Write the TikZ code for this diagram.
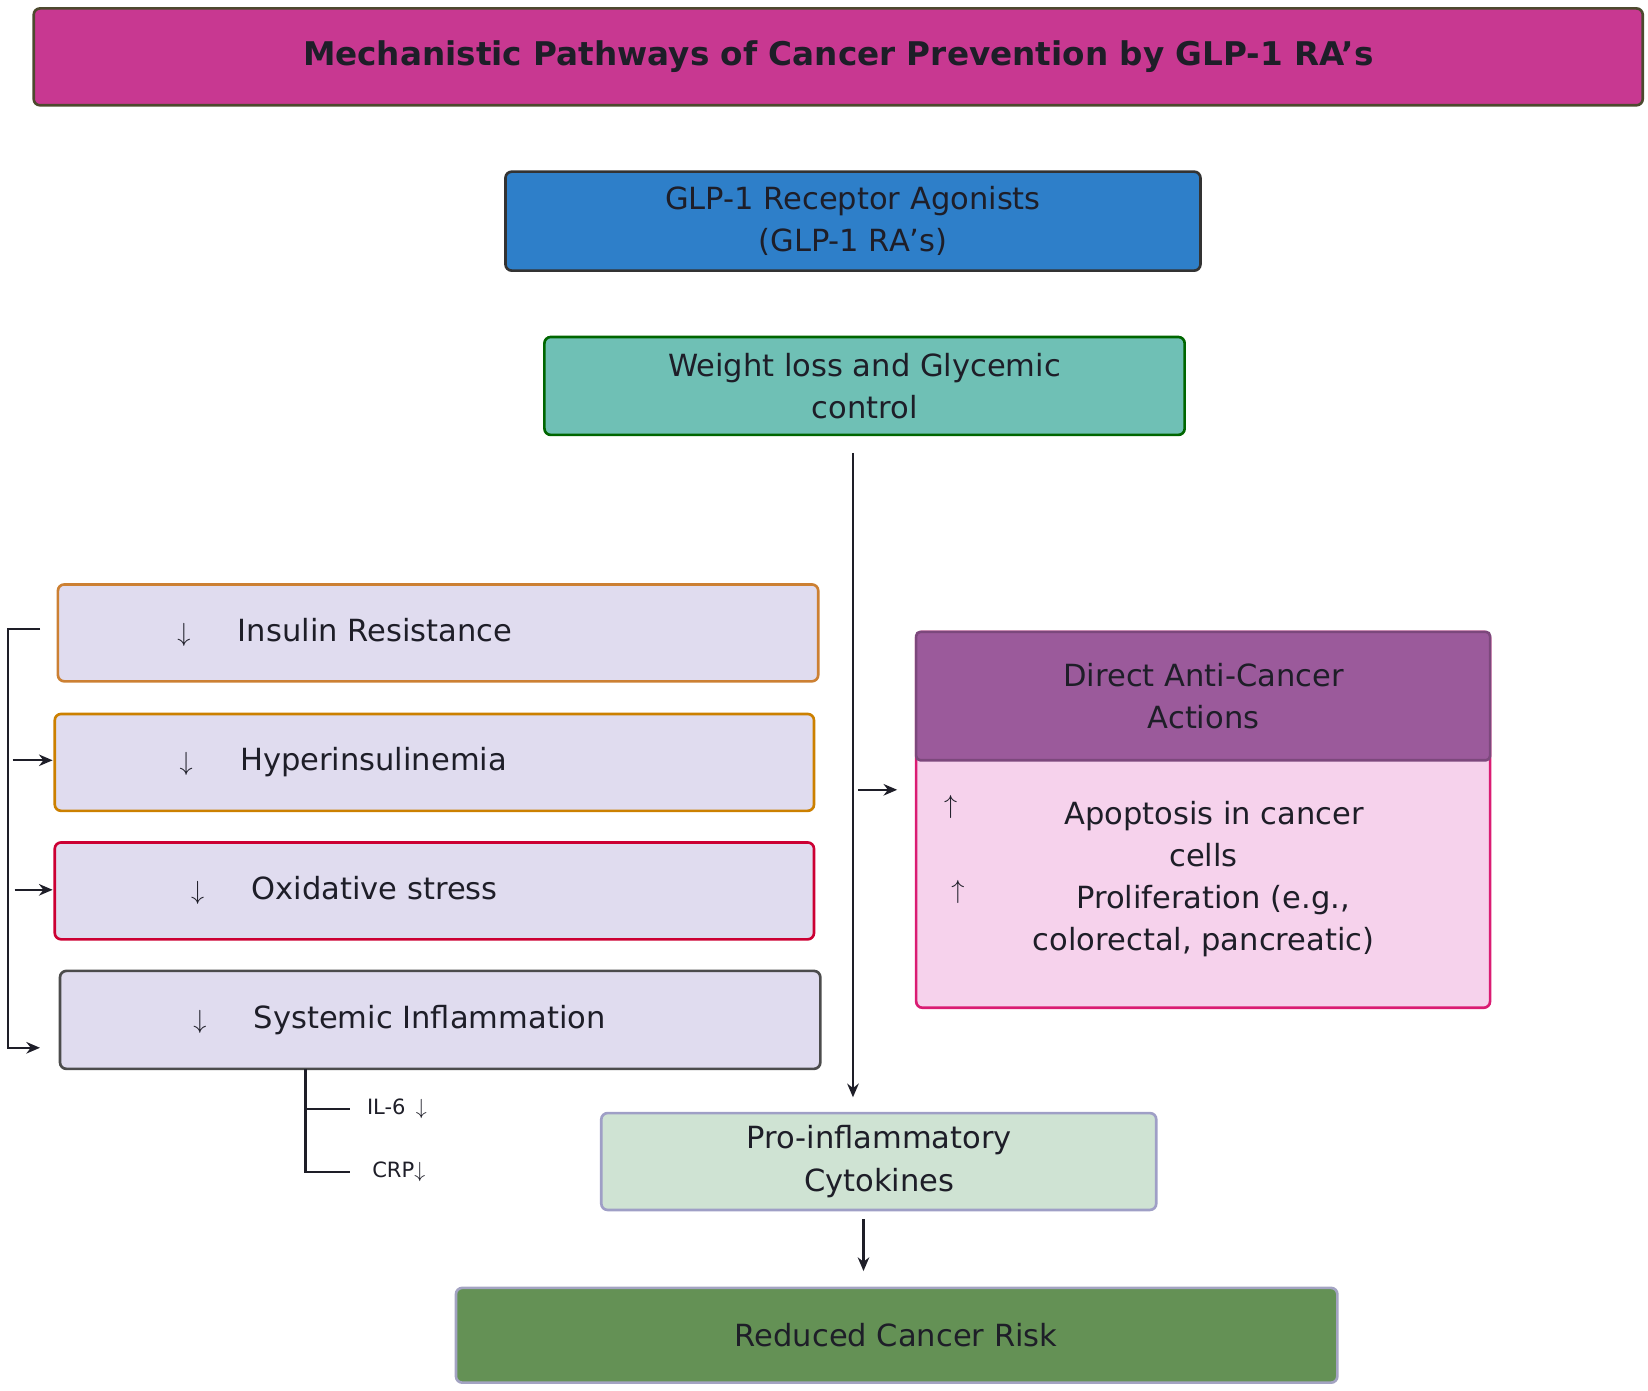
\documentclass[tikz,border=0pt]{standalone}
\usepackage{fontspec}
\setmainfont{DejaVu Sans}
\usetikzlibrary{arrows.meta}
\definecolor{titlefill}{RGB}{200,56,145}
\definecolor{glpfill}{RGB}{46,127,201}
\definecolor{wlfill}{RGB}{111,192,181}
\definecolor{lav}{RGB}{224,220,239}
\definecolor{dirhead}{RGB}{155,90,155}
\definecolor{dirbody}{RGB}{246,210,236}
\definecolor{profill}{RGB}{207,227,211}
\definecolor{redfill}{RGB}{100,145,85}
\definecolor{txt}{RGB}{30,30,40}
\begin{document}
\begin{tikzpicture}[x=1pt,y=-1pt,
  box/.style={draw, line width=2.5pt, rounded corners=6pt},
  lbl/.style={font=\fontsize{29}{40}\selectfont, text=txt, align=center},
  arr/.style={-{Stealth[length=13pt,width=11pt]}, line width=2pt, draw=txt}]
\useasboundingbox (0,0) rectangle (1565,1320);
% title
\draw[box, fill=titlefill, draw=black!60!olive] (32,8) rectangle (1560,100);
\node[lbl, font=\fontsize{31}{40}\selectfont\bfseries] (title) at (796,54) {Mechanistic Pathways of Cancer Prevention by GLP-1 RA's};
% top chain
\draw[box, fill=glpfill, draw=black!80] (480,163) rectangle (1140,257);
\node[lbl] (glp) at (810,210) {GLP-1 Receptor Agonists\\(GLP-1 RA's)};
\draw[box, fill=wlfill, draw=green!40!black] (517,320) rectangle (1125,413);
\node[lbl] (wl) at (821,367) {Weight loss and Glycemic\\control};
\coordinate (vtop) at (810,430);
\coordinate (vbot) at (810,1042);
\draw[arr] (vtop) -- (vbot);
% left boxes
\draw[box, fill=lav, draw=brown!80!orange] (55,555) rectangle (777,647);
\node[lbl, anchor=west] (ir) at (165,601) {$\downarrow$\hspace{45pt}Insulin Resistance};
\draw[box, fill=lav, draw=orange!60!olive] (52,678) rectangle (773,770);
\node[lbl, anchor=west] (hi) at (167,724) {$\downarrow$\hspace{45pt}Hyperinsulinemia};
\draw[box, fill=lav, draw=purple!80!red] (52,800) rectangle (773,892);
\node[lbl, anchor=west] (ox) at (178,846) {$\downarrow$\hspace{45pt}Oxidative stress};
\draw[box, fill=lav, draw=black!70] (57,922) rectangle (779,1015);
\node[lbl, anchor=west] (si) at (180,969) {$\downarrow$\hspace{45pt}Systemic Inflammation};
% left bracket
\coordinate (b1) at (38,597);
\coordinate (b4) at (38,995);
\draw[arr] (b1) -- (8,597) -- (8,995) -- (b4);
\coordinate (b2s) at (12,722); \coordinate (b2) at (50,722);
\coordinate (b3s) at (14,845); \coordinate (b3) at (50,845);
\draw[arr] (b2s) -- (b2);
\draw[arr] (b3s) -- (b3);
% IL-6 / CRP bracket
\draw[line width=2.5pt, draw=txt] (290,1015) -- (290,1113) -- (332,1113);
\draw[line width=2.5pt, draw=txt] (290,1053) -- (332,1053);
\node[lbl, font=\fontsize{20}{24}\selectfont, anchor=west] (il6) at (345,1053) {IL-6 \,$\downarrow$};
\node[lbl, font=\fontsize{20}{24}\selectfont, anchor=west] (crp) at (350,1113) {CRP$\downarrow$};
% direct actions
\coordinate (da1) at (815,750); \coordinate (da2) at (852,750);
\draw[arr] (da1) -- (da2);
\draw[box, fill=dirbody, draw=magenta!60!purple] (870,600) rectangle (1415,957);
\draw[box, fill=dirhead, draw=dirhead!80!black, rounded corners=4pt] (870,600) rectangle (1415,722);
\node[lbl] (dh) at (1143,661) {Direct Anti-Cancer\\Actions};
\node[lbl, anchor=north west] (up1) at (893,752) {$\uparrow$};
\node[lbl, anchor=north west] (up2) at (900,832) {$\uparrow$};
\node[lbl] (db) at (1143,835) {\hspace{20pt}Apoptosis in cancer\\cells\\\hspace{18pt}Proliferation (e.g.,\\colorectal, pancreatic)};
% bottom
\draw[box, fill=profill, draw=blue!25!gray!60] (571,1057) rectangle (1098,1149);
\node[lbl] (pro) at (835,1103) {Pro-inflammatory\\Cytokines};
\coordinate (p1) at (820,1158); \coordinate (p2) at (820,1207);
\draw[arr] (p1) -- (p2);
\draw[box, fill=redfill, draw=blue!20!gray!60] (433,1223) rectangle (1270,1313);
\node[lbl] (red) at (851,1268) {Reduced Cancer Risk};
\end{tikzpicture}
\end{document}
